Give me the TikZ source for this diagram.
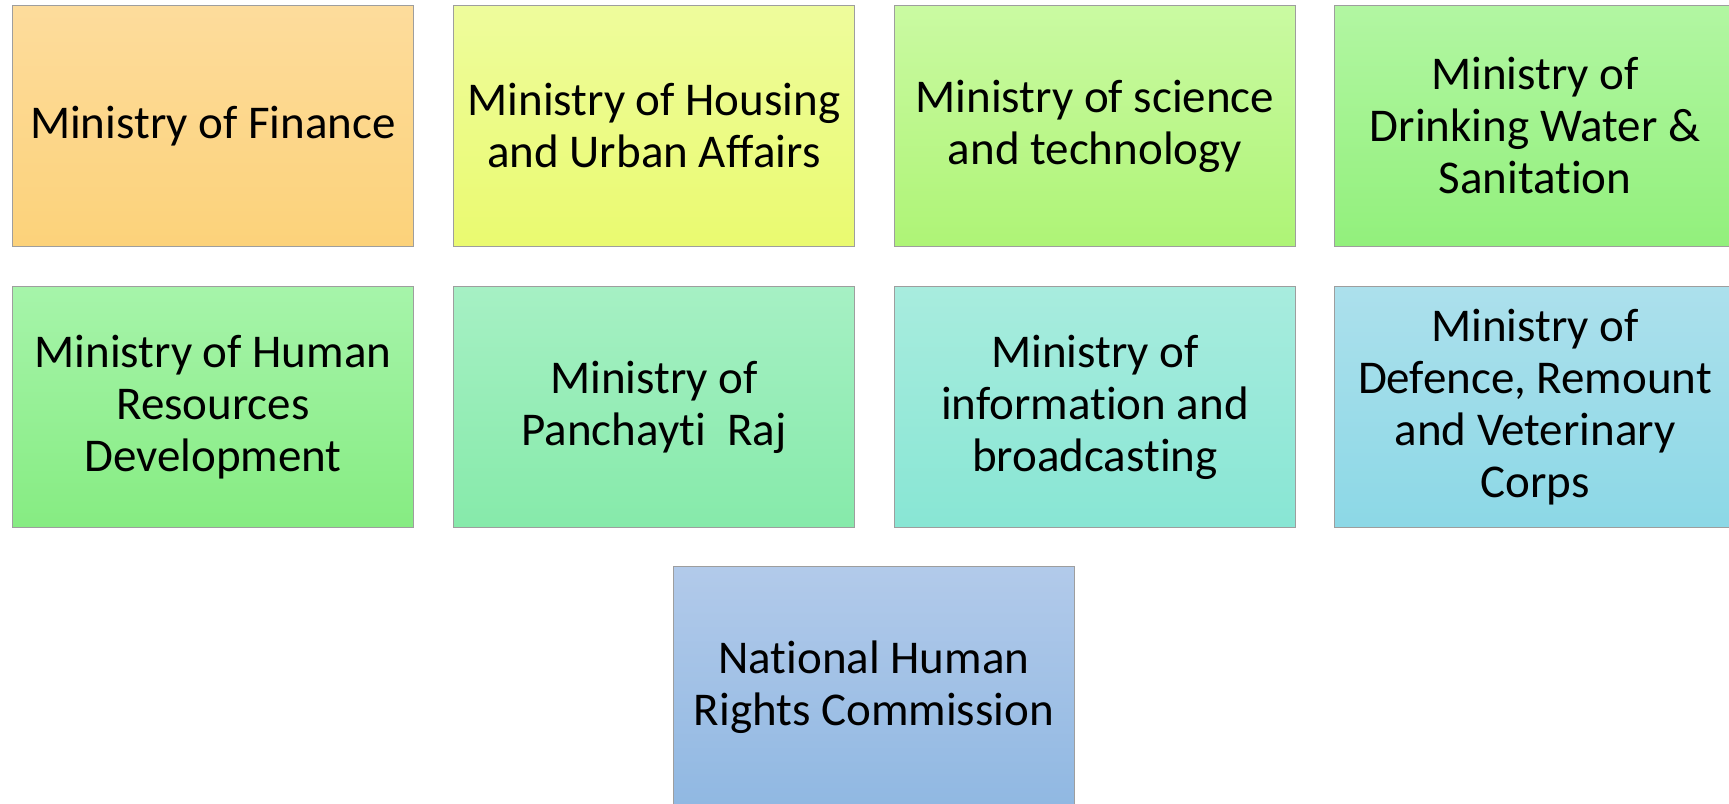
\documentclass[tikz,border=0pt]{standalone}
\usepackage{fontspec}
\setmainfont{Carlito}[Ligatures={NoCommon,NoContextual,NoRequired}]
\begin{document}
\begin{tikzpicture}[x=1pt,y=-1pt,
  orgbox/.style={draw=black!38, line width=0.9pt, anchor=north west,
    minimum width=401pt, minimum height=241pt, inner sep=0pt,
    align=center, text=black,
    font=\fontsize{47pt}{52pt}\selectfont},
  shadebox/.style 2 args={orgbox, top color=#1, bottom color=#2}]
\useasboundingbox (0,0) rectangle (1729,803);
\clip (0,0) rectangle (1729,803);
\fill[white] (0,0) rectangle (1729,803);
% colour pairs, top to bottom of each box
\definecolor{c1t}{RGB}{253,220,156}\definecolor{c1b}{RGB}{252,210,122}
\definecolor{c2t}{RGB}{238,252,156}\definecolor{c2b}{RGB}{234,250,112}
\definecolor{c3t}{RGB}{202,250,162}\definecolor{c3b}{RGB}{174,244,118}
\definecolor{c4t}{RGB}{178,246,162}\definecolor{c4b}{RGB}{146,240,124}
\definecolor{c5t}{RGB}{166,244,170}\definecolor{c5b}{RGB}{134,236,130}
\definecolor{c6t}{RGB}{166,240,196}\definecolor{c6b}{RGB}{134,234,170}
\definecolor{c7t}{RGB}{168,236,222}\definecolor{c7b}{RGB}{136,230,212}
\definecolor{c8t}{RGB}{172,224,236}\definecolor{c8b}{RGB}{140,216,230}
\definecolor{c9t}{RGB}{178,202,234}\definecolor{c9b}{RGB}{144,184,226}
% first row
\node[shadebox={c1t}{c1b}] (fin) at (12,5) {Ministry of Finance};
\node[shadebox={c2t}{c2b}] (hua) at (453,5) {Ministry of Housing\\and Urban Affairs};
\node[shadebox={c3t}{c3b}] (sci) at (894,5) {Ministry of science\\and technology};
\node[shadebox={c4t}{c4b}] (dws) at (1334,5) {Ministry of\\Drinking Water \&\\Sanitation};
% second row
\node[shadebox={c5t}{c5b}] (hrd) at (12,286) {Ministry of Human\\Resources\\Development};
\node[shadebox={c6t}{c6b}] (pan) at (453,286) {Ministry of\\Panchayti\ \ Raj};
\node[shadebox={c7t}{c7b}] (inf) at (894,286) {Ministry of\\information and\\broadcasting};
\node[shadebox={c8t}{c8b}] (def) at (1334,286) {Ministry of\\Defence, Remount\\and Veterinary\\Corps};
% third row
\node[shadebox={c9t}{c9b}] (nhrc) at (673,566) {National Human\\Rights Commission};
\end{tikzpicture}
\end{document}
